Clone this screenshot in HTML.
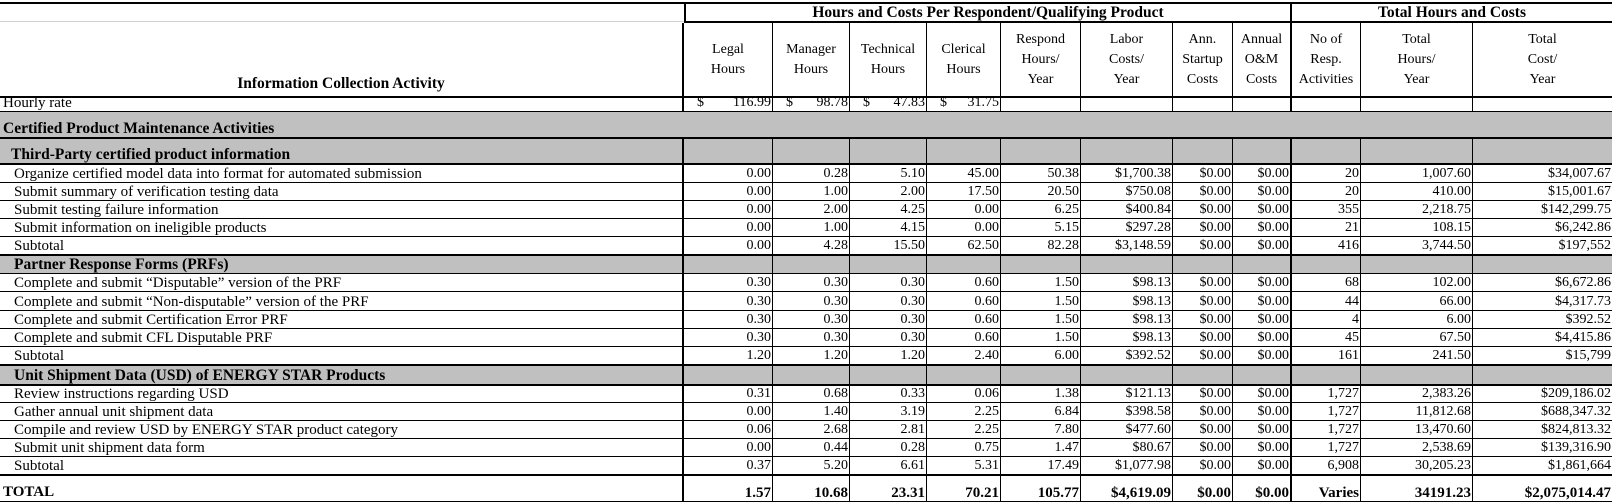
<!DOCTYPE html>
<html><head><meta charset="utf-8"><style>
body{margin:0;width:1612px;height:502px;background:#fff;position:relative;overflow:hidden;font-family:"Liberation Serif",serif;font-size:14px;color:#000}
.r{position:absolute;left:0;width:1612px;display:flex;box-sizing:border-box;border-bottom:1px solid #000}
.r.t{border-bottom:2px solid #000}
.r>div{box-sizing:border-box;border-right:1px solid #000;white-space:nowrap;display:flex;align-items:flex-end;justify-content:flex-end;padding-right:1px;line-height:16px;overflow:hidden}
.r>div:nth-child(1){width:684px;border-right:2px solid #000;justify-content:flex-start;padding-left:14px;font-size:15px}
.r>div:nth-child(2){width:89px}
.r>div:nth-child(3){width:77px}
.r>div:nth-child(4){width:77px}
.r>div:nth-child(5){width:74px}
.r>div:nth-child(6){width:80px}
.r>div:nth-child(7){width:92px}
.r>div:nth-child(8){width:60px}
.r>div:nth-child(9){width:59px;border-right:2px solid #000}
.r>div:nth-child(10){width:69px}
.r>div:nth-child(11){width:112px}
.r>div:nth-child(12){width:139px;border-right:none}
.g{background:#c0c0c0}
.b{font-weight:bold}
.h>div{justify-content:center;align-items:center;text-align:center;line-height:20px;padding:0}
.hr>div{justify-content:space-between;padding-left:13px}
</style></head><body>
<div style="position:absolute;left:0;top:2px;width:1612px;height:2px;background:#000"></div>
<div style="position:absolute;left:0;top:21px;width:684px;height:1px;background:#d0d0d0"></div>
<div style="position:absolute;left:684px;top:21px;width:928px;height:2px;background:#000"></div>
<div style="position:absolute;left:684px;top:3px;width:2px;height:19px;background:#000"></div>
<div style="position:absolute;left:1290px;top:3px;width:2px;height:19px;background:#000"></div>
<div class="b" style="position:absolute;left:686px;top:4px;width:604px;text-align:center;font-size:15.5px;line-height:18px">Hours and Costs Per Respondent/Qualifying Product</div>
<div class="b" style="position:absolute;left:1292px;top:4px;width:320px;text-align:center;font-size:15.5px;line-height:18px">Total Hours and Costs</div>

<div class="r t h" style="top:23px;height:75px;border-bottom-width:2px">
<div style="align-items:flex-end;justify-content:center;padding:0 0 2px 0;font-weight:bold;font-size:15.5px">Information Collection Activity</div>
<div>Legal<br>Hours</div><div>Manager<br>Hours</div><div>Technical<br>Hours</div><div>Clerical<br>Hours</div>
<div>Respond<br>Hours/<br>Year</div><div>Labor<br>Costs/<br>Year</div><div>Ann.<br>Startup<br>Costs</div><div>Annual<br>O&amp;M<br>Costs</div>
<div>No of<br>Resp.<br>Activities</div><div>Total<br>Hours/<br>Year</div><div>Total<br>Cost/<br>Year</div>
</div>

<div class="r t hr" style="top:96px;height:17px">
<div style="padding-left:3px">Hourly rate</div><div><span>$</span><span>116.99</span></div><div><span>$</span><span>98.78</span></div><div><span>$</span><span>47.83</span></div><div><span>$</span><span>31.75</span></div><div></div><div></div><div></div><div></div><div></div><div></div><div></div>
</div>

<div class="b g" style="position:absolute;left:0;top:112px;width:1612px;height:27px;box-sizing:border-box;border-bottom:2px solid #000;padding-left:3px;font-size:15.5px;line-height:34px">Certified Product Maintenance Activities</div>

<div class="r t g b" style="top:139px;height:26px"><div style="padding-left:11px;font-size:15.5px">Third-Party certified product information</div><div></div><div></div><div></div><div></div><div></div><div></div><div></div><div></div><div></div><div></div><div></div></div>

<div class="r" style="top:165px;height:18px"><div>Organize certified model data into format for automated submission</div><div>0.00</div><div>0.28</div><div>5.10</div><div>45.00</div><div>50.38</div><div>$1,700.38</div><div>$0.00</div><div>$0.00</div><div>20</div><div>1,007.60</div><div>$34,007.67</div></div>
<div class="r" style="top:183px;height:18px"><div>Submit summary of verification testing data</div><div>0.00</div><div>1.00</div><div>2.00</div><div>17.50</div><div>20.50</div><div>$750.08</div><div>$0.00</div><div>$0.00</div><div>20</div><div>410.00</div><div>$15,001.67</div></div>
<div class="r" style="top:201px;height:18px"><div>Submit testing failure information</div><div>0.00</div><div>2.00</div><div>4.25</div><div>0.00</div><div>6.25</div><div>$400.84</div><div>$0.00</div><div>$0.00</div><div>355</div><div>2,218.75</div><div>$142,299.75</div></div>
<div class="r" style="top:219px;height:18px"><div>Submit information on ineligible products</div><div>0.00</div><div>1.00</div><div>4.15</div><div>0.00</div><div>5.15</div><div>$297.28</div><div>$0.00</div><div>$0.00</div><div>21</div><div>108.15</div><div>$6,242.86</div></div>
<div class="r t" style="top:237px;height:19px"><div>Subtotal</div><div>0.00</div><div>4.28</div><div>15.50</div><div>62.50</div><div>82.28</div><div>$3,148.59</div><div>$0.00</div><div>$0.00</div><div>416</div><div>3,744.50</div><div>$197,552</div></div>

<div class="r g b" style="top:256px;height:18px"><div style="font-size:15.5px">Partner Response Forms (PRFs)</div><div></div><div></div><div></div><div></div><div></div><div></div><div></div><div></div><div></div><div></div><div></div></div>
<div class="r" style="top:274px;height:18px"><div>Complete and submit “Disputable” version of the PRF</div><div>0.30</div><div>0.30</div><div>0.30</div><div>0.60</div><div>1.50</div><div>$98.13</div><div>$0.00</div><div>$0.00</div><div>68</div><div>102.00</div><div>$6,672.86</div></div>
<div class="r" style="top:292px;height:19px"><div>Complete and submit “Non-disputable” version of the PRF</div><div>0.30</div><div>0.30</div><div>0.30</div><div>0.60</div><div>1.50</div><div>$98.13</div><div>$0.00</div><div>$0.00</div><div>44</div><div>66.00</div><div>$4,317.73</div></div>
<div class="r" style="top:311px;height:18px"><div>Complete and submit Certification Error PRF</div><div>0.30</div><div>0.30</div><div>0.30</div><div>0.60</div><div>1.50</div><div>$98.13</div><div>$0.00</div><div>$0.00</div><div>4</div><div>6.00</div><div>$392.52</div></div>
<div class="r" style="top:329px;height:18px"><div>Complete and submit CFL Disputable PRF</div><div>0.30</div><div>0.30</div><div>0.30</div><div>0.60</div><div>1.50</div><div>$98.13</div><div>$0.00</div><div>$0.00</div><div>45</div><div>67.50</div><div>$4,415.86</div></div>
<div class="r t" style="top:347px;height:19px"><div>Subtotal</div><div>1.20</div><div>1.20</div><div>1.20</div><div>2.40</div><div>6.00</div><div>$392.52</div><div>$0.00</div><div>$0.00</div><div>161</div><div>241.50</div><div>$15,799</div></div>

<div class="r g b t" style="top:366px;height:20px"><div style="font-size:15.5px">Unit Shipment Data (USD) of ENERGY STAR Products</div><div></div><div></div><div></div><div></div><div></div><div></div><div></div><div></div><div></div><div></div><div></div></div>
<div class="r" style="top:386px;height:17px"><div>Review instructions regarding USD</div><div>0.31</div><div>0.68</div><div>0.33</div><div>0.06</div><div>1.38</div><div>$121.13</div><div>$0.00</div><div>$0.00</div><div>1,727</div><div>2,383.26</div><div>$209,186.02</div></div>
<div class="r" style="top:403px;height:18px"><div>Gather annual unit shipment data</div><div>0.00</div><div>1.40</div><div>3.19</div><div>2.25</div><div>6.84</div><div>$398.58</div><div>$0.00</div><div>$0.00</div><div>1,727</div><div>11,812.68</div><div>$688,347.32</div></div>
<div class="r" style="top:421px;height:18px"><div>Compile and review USD by ENERGY STAR product category</div><div>0.06</div><div>2.68</div><div>2.81</div><div>2.25</div><div>7.80</div><div>$477.60</div><div>$0.00</div><div>$0.00</div><div>1,727</div><div>13,470.60</div><div>$824,813.32</div></div>
<div class="r" style="top:439px;height:18px"><div>Submit unit shipment data form</div><div>0.00</div><div>0.44</div><div>0.28</div><div>0.75</div><div>1.47</div><div>$80.67</div><div>$0.00</div><div>$0.00</div><div>1,727</div><div>2,538.69</div><div>$139,316.90</div></div>
<div class="r t" style="top:457px;height:19px"><div>Subtotal</div><div>0.37</div><div>5.20</div><div>6.61</div><div>5.31</div><div>17.49</div><div>$1,077.98</div><div>$0.00</div><div>$0.00</div><div>6,908</div><div>30,205.23</div><div>$1,861,664</div></div>

<div class="r b" style="top:476px;height:26px;font-size:15px"><div style="padding-left:3px;padding-bottom:1px">TOTAL</div><div>1.57</div><div>10.68</div><div>23.31</div><div>70.21</div><div>105.77</div><div>$4,619.09</div><div>$0.00</div><div>$0.00</div><div>Varies</div><div>34191.23</div><div>$2,075,014.47</div></div>
</body></html>
